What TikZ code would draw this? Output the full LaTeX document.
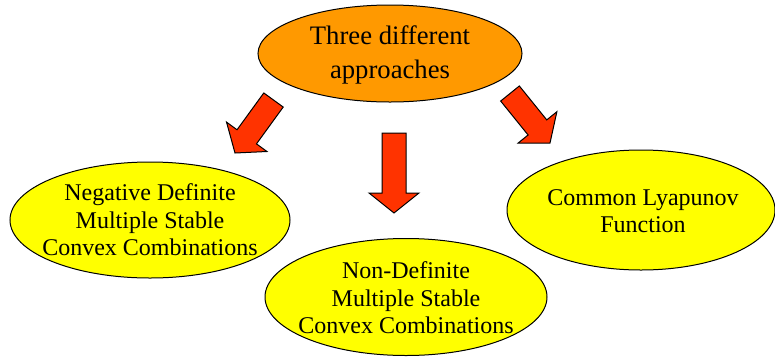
\documentclass[tikz,border=0pt]{standalone}
\usepackage{fontspec}
\setmainfont{Liberation Serif}
\usetikzlibrary{shapes.geometric,calc}
\definecolor{approachorange}{RGB}{255,153,0}
\definecolor{bubbleyellow}{RGB}{255,255,0}
\definecolor{arrowred}{RGB}{255,51,0}

\tikzset{
  bubble/.style={ellipse,draw=black,line width=0.75pt,inner sep=0pt},
  bubbletext/.style={align=center,inner sep=0pt,font=\fontsize{18}{20.6}\selectfont},
  fatarrow/.style={fill=arrowred,draw=black,line width=0.75pt,line join=miter}
}

% block arrow from #1 (tail) to #2 (tip)
\newcommand{\blockarrow}[2]{%
  \coordinate (hb) at ($(#2)!15pt!(#1)$);
  \filldraw[fatarrow] ($(#1)!9pt!90:(#2)$) -- ($(hb)!9pt!90:(#2)$)
    -- ($(hb)!18.75pt!90:(#2)$) -- (#2) -- ($(hb)!18.75pt!-90:(#2)$)
    -- ($(hb)!9pt!-90:(#2)$) -- ($(#1)!9pt!-90:(#2)$) -- cycle;}

\begin{document}
\begin{tikzpicture}[x=0.75pt,y=-0.75pt]
  \useasboundingbox (0,0) rectangle (775,358);

  % top bubble
  \node[bubble,fill=approachorange,minimum width=198pt,minimum height=72.75pt]
    (top) at (390,53.5) {};
  \node[align=center,inner sep=0pt,font=\fontsize{20}{25.5}\selectfont]
    (toptext) at (390,55) {Three different\\approaches};

  % the three approaches
  \node[bubble,fill=bubbleyellow,minimum width=210pt,minimum height=87pt]
    (negdef) at (150,220) {};
  \node[bubbletext] (negdeftext) at (150,220)
    {Negative Definite\\Multiple Stable\\Convex Combinations};

  \node[bubble,fill=bubbleyellow,minimum width=211.5pt,minimum height=87.75pt]
    (nondef) at (406,297) {};
  \node[bubbletext] (nondeftext) at (406,298)
    {Non-Definite\\Multiple Stable\\Convex Combinations};

  \node[bubble,fill=bubbleyellow,minimum width=201pt,minimum height=90pt]
    (lyap) at (641,210) {};
  \node[bubbletext] (lyaptext) at (643,211)
    {Common Lyapunov\\Function};

  % arrows
  \coordinate (arrLa) at (273.5,100);
  \coordinate (arrLb) at (235,153);
  \coordinate (arrMa) at (394,133);
  \coordinate (arrMb) at (394,213);
  \coordinate (arrRa) at (510,93.5);
  \coordinate (arrRb) at (550,143);
  \blockarrow{arrLa}{arrLb}
  \blockarrow{arrMa}{arrMb}
  \blockarrow{arrRa}{arrRb}
\end{tikzpicture}
\end{document}
